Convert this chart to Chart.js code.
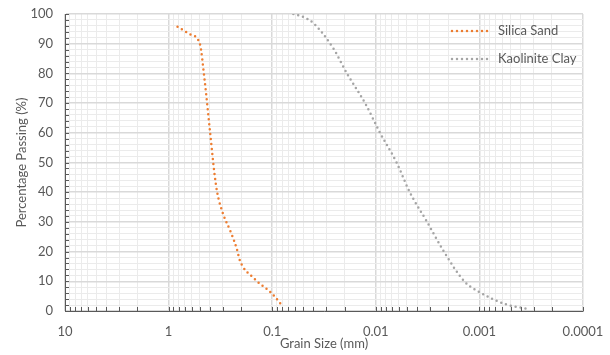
<!DOCTYPE html>
<html>
<head>
<meta charset="utf-8">
<script src="https://cdn.jsdelivr.net/npm/chart.js@4/dist/chart.umd.min.js"></script>
<style>
  html, body { margin: 0; padding: 0; background: #fff; }
  #wrap { width: 610px; height: 355px; position: relative; }
</style>
</head>
<body>
<div id="wrap"><canvas id="gradation"></canvas></div>
<script>
// grain size distribution
const silicaSize = [0.82, 0.62, 0.5, 0.45, 0.4, 0.36, 0.34, 0.3, 0.25, 0.22, 0.205, 0.15, 0.1, 0.079];
const silicaPassing = [95.7, 93.2, 90, 78, 61, 46, 40, 33, 26.4, 21, 17, 11, 5.8, 1.5];

const claySize = [0.0625, 0.05, 0.04, 0.0259, 0.019, 0.0127, 0.0091, 0.0063, 0.0047, 0.0032, 0.0022, 0.0014, 0.001, 0.00055, 0.00034];
const clayPassing = [100, 99, 96.9, 88.6, 80, 70, 60, 50, 40, 30, 20, 10, 6.4, 2.2, 0.7];

const seriesNames = ["Silica Sand", "Kaolinite Clay"];
const seriesColors = ["#ED7D31", "#A5A5A5"];
const xTickLabels = ["10", "1", "0.1", "0.01", "0.001", "0.0001"];

const font = { family: "Lato, 'Open Sans', sans-serif", size: 13 };
const textColor = "#595959";

function toPoints(xs, ys) {
  return xs.map((x, i) => ({ x: x, y: ys[i] }));
}

function isDecade(v) {
  const l = Math.log10(v);
  return Math.abs(l - Math.round(l)) < 1e-9;
}

// legend drawn inside the plot, top right
const insideLegend = {
  id: "insideLegend",
  afterDraw(chart) {
    const ctx = chart.ctx;
    const area = chart.chartArea;
    ctx.save();
    ctx.font = font.size + "px " + font.family;
    ctx.textBaseline = "middle";
    seriesNames.forEach((name, i) => {
      const y = area.top + 17 + i * 28;
      ctx.strokeStyle = seriesColors[i];
      ctx.lineWidth = 2.5;
      ctx.lineCap = "round";
      ctx.setLineDash([0, 5]);
      ctx.beginPath();
      ctx.moveTo(area.right - 131, y);
      ctx.lineTo(area.right - 91, y);
      ctx.stroke();
      ctx.setLineDash([]);
      ctx.fillStyle = textColor;
      ctx.fillText(name, area.right - 85, y);
    });
    ctx.restore();
  }
};

// tick marks point into the plot, like the original
const innerTicks = {
  id: "innerTicks",
  afterDatasetsDraw(chart) {
    const ctx = chart.ctx;
    const area = chart.chartArea;
    const xs = chart.scales.x, ys = chart.scales.y;
    ctx.save();
    ctx.strokeStyle = textColor;
    ctx.lineWidth = 1;
    ctx.beginPath();
    xs.ticks.forEach(t => {
      const px = Math.round(xs.getPixelForValue(t.value)) + 0.5;
      ctx.moveTo(px, area.bottom);
      ctx.lineTo(px, area.bottom - 4);
    });
    ys.ticks.forEach(t => {
      const py = Math.round(ys.getPixelForValue(t.value)) + 0.5;
      ctx.moveTo(area.left, py);
      ctx.lineTo(area.left + 4, py);
    });
    ctx.stroke();
    ctx.restore();
  }
};

const datasets = [
  { label: seriesNames[0], data: toPoints(silicaSize, silicaPassing) },
  { label: seriesNames[1], data: toPoints(claySize, clayPassing) }
].map((d, i) => Object.assign(d, {
  borderColor: seriesColors[i],
  borderWidth: 2.5,
  borderDash: [0, 5],
  borderCapStyle: "round",
  pointRadius: 0,
  fill: false,
  cubicInterpolationMode: "monotone"
}));

new Chart(document.getElementById("gradation"), {
  type: "line",
  data: { datasets: datasets },
  options: {
    responsive: true,
    maintainAspectRatio: false,
    animation: false,
    layout: { padding: { left: 14, right: 27, top: 14, bottom: 0 } },
    plugins: { legend: { display: false }, tooltip: { enabled: false } },
    scales: {
      x: {
        type: "logarithmic",
        reverse: true,
        min: 0.0001,
        max: 10,
        afterBuildTicks(scale) {
          const t = [];
          for (let e = -4; e <= 0; e++) {
            for (let m = 1; m <= 9; m++) t.push({ value: m * Math.pow(10, e) });
          }
          t.push({ value: 10 });
          scale.ticks = t;
        },
        afterFit(scale) { scale.height = 44; },
        ticks: {
          autoSkip: false,
          maxRotation: 0,
          padding: 3,
          color: textColor,
          font: font,
          callback(v) {
            if (!isDecade(v)) return "";
            const idx = Math.round(1 - Math.log10(v));
            return xTickLabels[idx];
          }
        },
        grid: {
          color: (c) => isDecade(c.tick.value) ? "#d9d9d9" : "#ebebeb",
          lineWidth: (c) => isDecade(c.tick.value) ? 1.5 : 1,
          tickColor: "rgba(0,0,0,0)",
          tickLength: 10
        },
        border: { color: textColor, width: 1 },
        title: {
          display: true,
          text: "Grain Size (mm)",
          color: textColor,
          font: font,
          padding: { top: 0, bottom: 3 }
        }
      },
      y: {
        min: 0,
        max: 100,
        afterFit(scale) { scale.width = 51; },
        ticks: {
          stepSize: 2,
          autoSkip: false,
          color: textColor,
          font: font,
          padding: 3,
          callback: (v) => v % 10 === 0 ? v : ""
        },
        grid: {
          color: (c) => c.tick.value % 10 === 0 ? "#d9d9d9" : "#ebebeb",
          lineWidth: (c) => c.tick.value % 10 === 0 ? 1.5 : 1,
          tickColor: "rgba(0,0,0,0)",
          tickLength: 9
        },
        border: { color: textColor, width: 1 },
        title: {
          display: true,
          text: "Percentage Passing (%)",
          color: textColor,
          font: font,
          padding: { top: 0, bottom: 0 }
        }
      }
    }
  },
  plugins: [innerTicks, insideLegend]
});
</script>
</body>
</html>
